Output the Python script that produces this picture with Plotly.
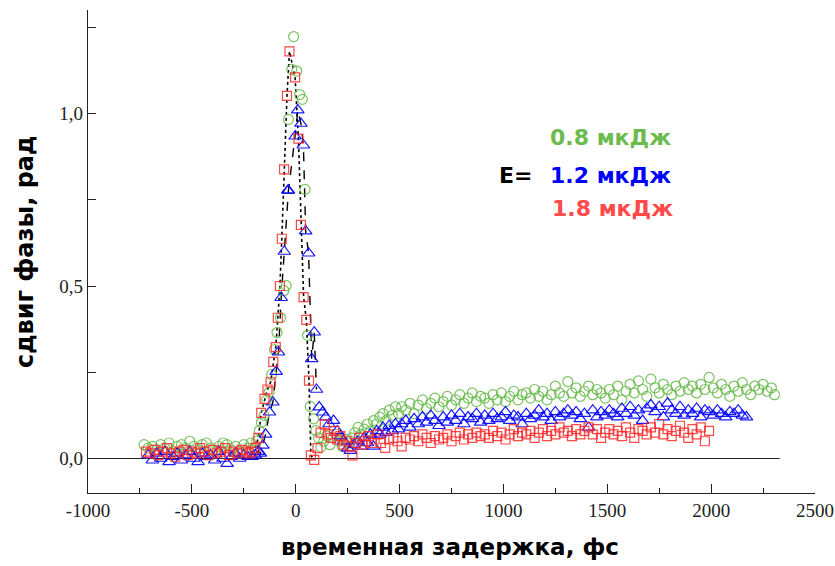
import plotly.graph_objects as go

# ---------------- data ----------------
green_x = [-730, -710, -690, -670, -650, -630, -610, -590, -570, -550, -530, -510, -490, -470, -450,
           -430, -410, -390, -370, -350, -330, -310, -290, -270, -250, -230, -215, -200, -188, -175,
           -165, -152, -140, -128, -116, -102, -90, -73, -57, -46, -35, -19, -10, 5, 19, 32, 45, 57,
           70, 86, 97, 110, 121, 135, 150, 165, 180, 195, 210, 225, 240, 255, 270, 285, 300, 315, 330,
           345, 360, 375, 390, 405, 420, 435, 450, 465, 480, 495,
           510, 530, 550, 570, 590, 610, 630, 650, 670, 690,
           710, 730, 750, 770, 790, 810, 830, 850, 870, 890,
           910, 930, 950, 970, 990, 1010, 1030, 1050, 1070, 1090,
           1110, 1130, 1150, 1170, 1190, 1210, 1230, 1250, 1270, 1290,
           1310, 1330, 1350, 1370, 1390, 1410, 1430, 1450, 1470, 1490,
           1510, 1530, 1550, 1570, 1590, 1610, 1630, 1650, 1670, 1690,
           1710, 1730, 1750, 1770, 1790, 1810, 1830, 1850, 1870, 1890,
           1910, 1930, 1950, 1970, 1990, 2010, 2030, 2050, 2070, 2090,
           2110, 2130, 2150, 2170, 2190, 2210, 2230, 2250, 2270, 2290, 2305]
green_y = [0.04, 0.03, 0.035, 0.025, 0.04, 0.03, 0.045, 0.02, 0.035, 0.04, 0.03, 0.05, 0.035, 0.025, 0.04,
           0.045, 0.03, 0.02, 0.035, 0.045, 0.04, 0.025, 0.035, 0.02, 0.04, 0.03, 0.045, 0.03, 0.05, 0.081,
           0.105, 0.125, 0.17, 0.192, 0.243, 0.316, 0.365, 0.408, 0.487, 0.501, 0.983, 1.128, 1.223, 1.123, 1.055, 1.041, 0.78, 0.357,
           0.151, 0.115, 0.081, 0.06, 0.033, 0.05, 0.065, 0.04, 0.06, 0.07, 0.05, 0.035, 0.055, 0.045, 0.06, 0.075, 0.09, 0.07, 0.085,
           0.10, 0.08, 0.11, 0.10, 0.12, 0.13, 0.11, 0.14, 0.125, 0.15, 0.13,
           0.15, 0.14, 0.16, 0.13, 0.155, 0.17, 0.145, 0.16, 0.175, 0.15,
           0.165, 0.18, 0.155, 0.17, 0.185, 0.16, 0.175, 0.19, 0.165, 0.18,
           0.175, 0.16, 0.185, 0.17, 0.19, 0.165, 0.18, 0.195, 0.17, 0.185,
           0.19, 0.175, 0.20, 0.18, 0.195, 0.17, 0.185, 0.21, 0.19, 0.18,
           0.223, 0.19, 0.205, 0.18, 0.195, 0.21, 0.185, 0.20, 0.19, 0.175,
           0.20, 0.185, 0.21, 0.17, 0.195, 0.215, 0.19, 0.225, 0.20, 0.18,
           0.23, 0.205, 0.19, 0.215, 0.20, 0.185, 0.21, 0.195, 0.22, 0.20,
           0.21, 0.19, 0.215, 0.20, 0.235, 0.205, 0.19, 0.215, 0.20, 0.18,
           0.21, 0.195, 0.22, 0.20, 0.185, 0.21, 0.20, 0.215, 0.195, 0.205, 0.185]

blue_x = [-710, -690, -670, -650, -630, -610, -590, -570, -550, -530, -510, -490, -470, -450, -430,
          -410, -390, -370, -350, -330, -310, -290, -270, -250, -230, -210, -195, -180, -170, -158,
          -145, -126, -110, -94, -83, -70, -55, -38, -35, -3, 10, 25, 37, 48, 62, 77, 89, 100, 113,
          129, 145, 160, 182, 200, 215, 230, 250, 263, 280, 300, 315, 330, 345, 360, 375, 390, 405,
          420, 435, 450, 465, 480, 495,
          510, 530, 550, 570, 590, 610, 630, 650, 670, 690,
          710, 730, 750, 770, 790, 810, 830, 850, 870, 890,
          910, 930, 950, 970, 990, 1010, 1030, 1050, 1070, 1090,
          1110, 1130, 1150, 1170, 1190, 1210, 1230, 1250, 1270, 1290,
          1310, 1330, 1350, 1370, 1390, 1410, 1430, 1450, 1470, 1490,
          1510, 1530, 1550, 1570, 1590, 1610, 1630, 1650, 1670, 1690,
          1710, 1730, 1750, 1770, 1790, 1810, 1830, 1850, 1870, 1890,
          1910, 1930, 1950, 1970, 1990, 2010, 2030, 2050, 2070, 2090,
          2110, 2130, 2150, 2170]
blue_y = [0.01, -0.005, 0.015, 0.0, 0.02, -0.01, 0.005, 0.015, -0.005, 0.01, 0.02, 0.0, -0.01, 0.015, 0.005,
          0.01, -0.005, 0.02, 0.0, -0.015, 0.005, 0.015, 0.0, 0.01, 0.005, 0.005, 0.01, 0.02, 0.015, 0.038,
          0.07, 0.134, 0.163, 0.252, 0.308, 0.466, 0.60, 0.777, 0.777, 0.934, 1.01, 0.971, 0.908, 0.659, 0.595, 0.289, 0.366, 0.20, 0.149,
          0.134, 0.12, 0.10, 0.11, 0.08, 0.065, 0.05, 0.03, 0.023, 0.04, 0.05, 0.035, 0.06, 0.045, 0.07, 0.035, 0.08, 0.07,
          0.09, 0.075, 0.095, 0.08, 0.10, 0.085,
          0.10, 0.11, 0.09, 0.115, 0.10, 0.12, 0.105, 0.125, 0.11, 0.095,
          0.12, 0.105, 0.125, 0.11, 0.13, 0.10, 0.12, 0.115, 0.13, 0.105,
          0.125, 0.11, 0.13, 0.115, 0.12, 0.135, 0.11, 0.125, 0.12, 0.10,
          0.13, 0.115, 0.125, 0.14, 0.12, 0.13, 0.11, 0.135, 0.12, 0.13,
          0.14, 0.125, 0.135, 0.115, 0.13, 0.09, 0.14, 0.12, 0.135, 0.125,
          0.14, 0.13, 0.12, 0.145, 0.13, 0.15, 0.125, 0.14, 0.11, 0.145,
          0.155, 0.135, 0.15, 0.12, 0.16, 0.14, 0.13, 0.15, 0.125, 0.14,
          0.13, 0.145, 0.12, 0.14, 0.135, 0.125, 0.14, 0.13, 0.12, 0.135,
          0.13, 0.14, 0.125, 0.12]

red_x = [-720, -700, -680, -660, -640, -620, -600, -580, -560, -540, -520, -500, -480, -460, -440,
         -420, -400, -380, -360, -340, -320, -300, -280, -260, -240, -225, -210, -195, -180, -166,
         -150, -136, -121, -108, -96, -86, -76, -67, -56, -42, -30, -3, 13, 25, 38, 51, 64, 73, 89,
         105, 120, 140, 155, 170, 185, 200, 215, 230, 245, 260, 273, 290, 305, 320, 335, 350, 365,
         380, 395, 410, 431, 450, 470, 490,
         510, 530, 550, 570, 590, 610, 630, 650, 670, 690,
         710, 730, 750, 770, 790, 810, 830, 850, 870, 890,
         910, 930, 950, 970, 990, 1010, 1030, 1050, 1070, 1090,
         1110, 1130, 1150, 1170, 1190, 1210, 1230, 1250, 1270, 1290,
         1310, 1330, 1350, 1370, 1390, 1410, 1430, 1450, 1470, 1490,
         1510, 1530, 1550, 1570, 1590, 1610, 1630, 1650, 1670, 1690,
         1710, 1730, 1750, 1770, 1790, 1810, 1830, 1850, 1870, 1890,
         1910, 1930, 1950, 1970, 1990]
red_y = [0.02, 0.015, 0.025, 0.01, 0.02, 0.03, 0.015, 0.005, 0.02, 0.025, 0.01, 0.02, 0.015, 0.03, 0.02,
         0.01, 0.025, 0.015, 0.02, 0.03, 0.01, 0.02, 0.015, 0.025, 0.02, 0.015, 0.02, 0.03, 0.06, 0.132,
         0.173, 0.20, 0.221, 0.28, 0.323, 0.408, 0.50, 0.637, 0.838, 1.051, 1.18, 1.105, 0.927, 0.677, 0.468, 0.402, 0.226, 0.009, -0.004,
         0.03, 0.075, 0.099, 0.07, 0.06, 0.08, 0.055, 0.065, 0.04, 0.05, 0.035, 0.009, 0.045, 0.06, 0.04, 0.05, 0.065, 0.045,
         0.055, 0.07, 0.045, 0.031, 0.055, 0.06, 0.05,
         0.035, 0.06, 0.055, 0.065, 0.05, 0.07, 0.06, 0.045, 0.065, 0.055,
         0.06, 0.07, 0.05, 0.065, 0.075, 0.055, 0.07, 0.06, 0.075, 0.065,
         0.07, 0.06, 0.08, 0.065, 0.075, 0.055, 0.07, 0.085, 0.065, 0.075,
         0.07, 0.08, 0.06, 0.075, 0.085, 0.065, 0.08, 0.07, 0.09, 0.075,
         0.08, 0.065, 0.085, 0.07, 0.08, 0.09, 0.07, 0.085, 0.06, 0.075,
         0.085, 0.07, 0.08, 0.065, 0.09, 0.075, 0.06, 0.085, 0.08, 0.07,
         0.09, 0.075, 0.10, 0.07, 0.085, 0.065, 0.08, 0.095, 0.075, 0.06,
         0.085, 0.07, 0.09, 0.05, 0.08]

# peak window in which the guide lines are drawn
peak_lo, peak_hi = -200, 100

x_ticks = [-1000, -500, 0, 500, 1000, 1500, 2000, 2500]
x_tick_text = ["-1000", "-500", "0", "500", "1000", "1500", "2000", "2500"]
y_ticks = [0.0, 0.5, 1.0]
y_tick_text = ["0,0", "0,5", "1,0"]
zero_line_x = [-970, 2330]

legend_labels = ["0.8 мкДж", "1.2 мкДж", "1.8 мкДж"]
x_title = "временная задержка, фс"
y_title = "сдвиг фазы, рад"

GREEN = "rgba(100,185,70,0.85)"
BLUE = "rgba(0,0,255,0.9)"
RED = "rgba(255,40,40,0.85)"


def window(xs, ys):
    pts = [(a, b) for a, b in zip(xs, ys) if peak_lo <= a <= peak_hi]
    return [p[0] for p in pts], [p[1] for p in pts]


fig = go.Figure()

fig.add_trace(go.Scatter(x=zero_line_x, y=[0, 0], mode="lines",
                         line=dict(color="#222", width=1.2), hoverinfo="skip", showlegend=False))

rx, ry = window(red_x, red_y)
bx, by = window(blue_x, blue_y)
fig.add_trace(go.Scatter(x=rx, y=ry, mode="lines", line=dict(color="black", width=1.6, dash="dot"),
                         showlegend=False))
fig.add_trace(go.Scatter(x=bx, y=by, mode="lines", line=dict(color="black", width=1.4, dash="dash"),
                         showlegend=False))

fig.add_trace(go.Scatter(x=green_x, y=green_y, mode="markers", name=legend_labels[0],
                         marker=dict(symbol="circle-open", size=10, color=GREEN, line=dict(width=1.2))))
fig.add_trace(go.Scatter(x=blue_x, y=blue_y, mode="markers", name=legend_labels[1],
                         marker=dict(symbol="triangle-up-open", size=11, color=BLUE, line=dict(width=1.2))))
fig.add_trace(go.Scatter(x=red_x, y=red_y, mode="markers", name=legend_labels[2],
                         marker=dict(symbol="square-open", size=9, color=RED, line=dict(width=1.2))))

W, H = 835, 566
L, R, T, B = 88, 20, 10, 73
pw, ph = W - L - R, H - T - B

fig.update_layout(
    width=W, height=H,
    margin=dict(l=L, r=R, t=T, b=B, autoexpand=False),
    plot_bgcolor="white", paper_bgcolor="white",
    showlegend=False,
    xaxis=dict(range=[-1000, 2500], tickvals=x_ticks, ticktext=x_tick_text, ticks="inside", ticklen=9,
               tickcolor="#222", showline=True, linecolor="#222", linewidth=1.2, showgrid=False,
               zeroline=False, automargin=False, ticklabeloverflow="allow",
               minor=dict(ticks="inside", ticklen=5, dtick=250, tick0=0, tickcolor="#222"),
               tickfont=dict(family="Liberation Serif", size=19, color="#222")),
    yaxis=dict(range=[-0.1, 1.3], tickvals=y_ticks, ticktext=y_tick_text, ticks="inside", ticklen=8,
               tickcolor="#222", showline=True, linecolor="#222", linewidth=1.2, showgrid=False,
               zeroline=False, automargin=False,
               minor=dict(ticks="inside", ticklen=8, dtick=0.25, tick0=0, tickcolor="#222"),
               tickfont=dict(family="Liberation Serif", size=19, color="#222")),
)


def paper(px, py):
    return (px - L) / pw, (H - B - py) / ph


x_title_font = dict(family="DejaVu Sans", size=23, color="black", weight="bold")
y_title_font = dict(family="DejaVu Sans", size=24, color="black", weight="bold")
ax_, ay_ = paper(450, 547)
fig.add_annotation(x=ax_, y=ay_, xref="paper", yref="paper", text=x_title, showarrow=False,
                   xanchor="center", yanchor="middle", font=x_title_font)
ax_, ay_ = paper(25, 252)
fig.add_annotation(x=ax_, y=ay_, xref="paper", yref="paper", text=y_title, showarrow=False,
                   textangle=-90, xanchor="center", yanchor="middle", font=y_title_font)

ann_font = dict(family="DejaVu Sans", size=22, weight="bold")
items = [(legend_labels[0], "#6dbb4e", 610, 137),
         ("E=", "black", 515, 175),
         (legend_labels[1], "#0000ff", 610, 175),
         (legend_labels[2], "#ff4a4a", 612, 208)]
for txt, col, px, py in items:
    ax_, ay_ = paper(px, py)
    fig.add_annotation(x=ax_, y=ay_, xref="paper", yref="paper", text=txt, showarrow=False,
                       xanchor="center", yanchor="middle", font=dict(color=col, **ann_font))

fig.write_html("out.html", config={"displayModeBar": False},
               post_script="document.body.style.margin='0';")
